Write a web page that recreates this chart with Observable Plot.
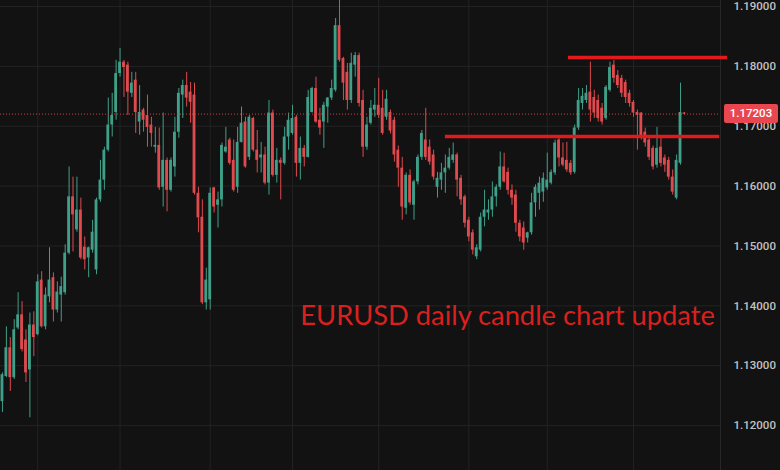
<!DOCTYPE html>
<html><head><meta charset="utf-8">
<script src="https://cdn.jsdelivr.net/npm/d3@7"></script>
<script src="https://cdn.jsdelivr.net/npm/@observablehq/plot@0.6"></script>
<style>
html,body{margin:0;padding:0;background:#121212;}
#chart{width:780px;height:470px;overflow:hidden;}
</style></head><body><div id="chart"></div>
<script>
// Daily EURUSD candles (index = trading day)
const open = [1.1240,1.1282,1.1330,1.1280,1.1363,1.1385,1.1343,1.1293,1.1368,1.1352,1.1443,1.1365,1.1415,1.1447,1.1393,1.1418,1.1422,1.1488,1.1582,1.1527,1.1560,1.1498,1.1480,1.1493,1.1460,1.1577,1.1610,1.1660,1.1702,1.1723,1.1788,1.1807,1.1802,1.1755,1.1777,1.1707,1.1727,1.1718,1.1702,1.1665,1.1668,1.1598,1.1643,1.1593,1.1632,1.1690,1.1752,1.1768,1.1757,1.1752,1.1588,1.1548,1.1405,1.1410,1.1597,1.1568,1.1577,1.1657,1.1677,1.1643,1.1598,1.1673,1.1707,1.1648,1.1713,1.1660,1.1647,1.1652,1.1605,1.1722,1.1618,1.1643,1.1638,1.1682,1.1688,1.1715,1.1638,1.1663,1.1648,1.1723,1.1763,1.1710,1.1707,1.1732,1.1747,1.1760,1.1868,1.1813,1.1790,1.1743,1.1802,1.1818,1.1743,1.1665,1.1705,1.1727,1.1735,1.1730,1.1715,1.1723,1.1710,1.1660,1.1630,1.1563,1.1618,1.1568,1.1607,1.1648,1.1677,1.1665,1.1652,1.1598,1.1610,1.1622,1.1630,1.1643,1.1652,1.1613,1.1582,1.1543,1.1522,1.1482,1.1493,1.1548,1.1555,1.1560,1.1582,1.1598,1.1632,1.1623,1.1593,1.1585,1.1538,1.1530,1.1513,1.1522,1.1572,1.1588,1.1590,1.1597,1.1605,1.1622,1.1677,1.1647,1.1643,1.1638,1.1623,1.1697,1.1738,1.1743,1.1757,1.1748,1.1743,1.1730,1.1713,1.1760,1.1802,1.1785,1.1780,1.1773,1.1755,1.1740,1.1723,1.1722,1.1690,1.1677,1.1663,1.1635,1.1665,1.1647,1.1643,1.1615,1.1580,1.1638,1.1722];
const high = [1.1288,1.1365,1.1347,1.1377,1.1422,1.1407,1.1360,1.1388,1.1390,1.1452,1.1457,1.1430,1.1497,1.1455,1.1440,1.1448,1.1502,1.1632,1.1615,1.1615,1.1580,1.1515,1.1498,1.1543,1.1580,1.1643,1.1665,1.1747,1.1755,1.1810,1.1830,1.1810,1.1807,1.1790,1.1790,1.1768,1.1730,1.1752,1.1715,1.1698,1.1697,1.1722,1.1647,1.1647,1.1715,1.1763,1.1777,1.1790,1.1773,1.1772,1.1598,1.1577,1.1463,1.1597,1.1598,1.1590,1.1672,1.1698,1.1680,1.1677,1.1698,1.1732,1.1715,1.1718,1.1715,1.1693,1.1673,1.1665,1.1743,1.1727,1.1663,1.1647,1.1698,1.1722,1.1735,1.1718,1.1682,1.1668,1.1760,1.1765,1.1782,1.1730,1.1740,1.1748,1.1777,1.1880,1.1910,1.1815,1.1805,1.1822,1.1823,1.1822,1.1760,1.1715,1.1743,1.1763,1.1780,1.1760,1.1760,1.1727,1.1715,1.1667,1.1648,1.1622,1.1627,1.1610,1.1652,1.1693,1.1730,1.1677,1.1660,1.1623,1.1638,1.1652,1.1663,1.1672,1.1655,1.1618,1.1585,1.1548,1.1527,1.1502,1.1555,1.1593,1.1577,1.1607,1.1602,1.1657,1.1655,1.1630,1.1602,1.1593,1.1543,1.1540,1.1523,1.1588,1.1602,1.1615,1.1622,1.1655,1.1627,1.1677,1.1680,1.1672,1.1673,1.1643,1.1702,1.1763,1.1763,1.1768,1.1807,1.1760,1.1752,1.1738,1.1768,1.1807,1.1810,1.1793,1.1785,1.1777,1.1760,1.1743,1.1727,1.1723,1.1697,1.1683,1.1667,1.1698,1.1682,1.1652,1.1648,1.1627,1.1652,1.1772,1.1723];
const low = [1.1222,1.1280,1.1257,1.1277,1.1360,1.1323,1.1272,1.1213,1.1315,1.1350,1.1363,1.1360,1.1405,1.1373,1.1388,1.1373,1.1418,1.1485,1.1490,1.1523,1.1477,1.1460,1.1447,1.1488,1.1452,1.1573,1.1593,1.1657,1.1682,1.1710,1.1782,1.1748,1.1718,1.1748,1.1688,1.1685,1.1690,1.1665,1.1665,1.1655,1.1593,1.1565,1.1557,1.1590,1.1615,1.1680,1.1713,1.1732,1.1705,1.1585,1.1522,1.1402,1.1393,1.1393,1.1555,1.1530,1.1565,1.1655,1.1635,1.1590,1.1588,1.1672,1.1630,1.1643,1.1657,1.1622,1.1622,1.1602,1.1585,1.1615,1.1605,1.1577,1.1635,1.1660,1.1685,1.1615,1.1610,1.1632,1.1647,1.1722,1.1705,1.1685,1.1663,1.1705,1.1743,1.1757,1.1807,1.1743,1.1727,1.1738,1.1782,1.1732,1.1648,1.1660,1.1702,1.1715,1.1713,1.1685,1.1710,1.1687,1.1640,1.1598,1.1543,1.1552,1.1568,1.1543,1.1602,1.1643,1.1643,1.1635,1.1610,1.1580,1.1593,1.1588,1.1627,1.1638,1.1582,1.1568,1.1530,1.1507,1.1485,1.1477,1.1490,1.1532,1.1543,1.1548,1.1565,1.1593,1.1605,1.1585,1.1568,1.1523,1.1507,1.1493,1.1505,1.1518,1.1548,1.1560,1.1573,1.1593,1.1602,1.1618,1.1632,1.1632,1.1623,1.1618,1.1620,1.1693,1.1727,1.1738,1.1707,1.1713,1.1707,1.1702,1.1710,1.1757,1.1772,1.1763,1.1748,1.1738,1.1732,1.1715,1.1660,1.1677,1.1665,1.1643,1.1627,1.1630,1.1632,1.1623,1.1610,1.1585,1.1577,1.1635,1.1719];
const close = [1.1285,1.1330,1.1280,1.1360,1.1385,1.1327,1.1288,1.1368,1.1347,1.1440,1.1365,1.1418,1.1443,1.1393,1.1423,1.1432,1.1488,1.1582,1.1552,1.1560,1.1480,1.1477,1.1497,1.1523,1.1577,1.1610,1.1660,1.1702,1.1718,1.1788,1.1807,1.1798,1.1757,1.1772,1.1723,1.1723,1.1710,1.1698,1.1688,1.1668,1.1597,1.1643,1.1593,1.1643,1.1690,1.1755,1.1768,1.1747,1.1740,1.1588,1.1547,1.1405,1.1443,1.1588,1.1565,1.1577,1.1668,1.1665,1.1638,1.1593,1.1673,1.1705,1.1632,1.1715,1.1660,1.1643,1.1652,1.1605,1.1722,1.1618,1.1643,1.1638,1.1682,1.1710,1.1713,1.1638,1.1663,1.1648,1.1748,1.1763,1.1707,1.1697,1.1735,1.1747,1.1763,1.1868,1.1810,1.1772,1.1743,1.1805,1.1818,1.1738,1.1665,1.1702,1.1730,1.1735,1.1718,1.1688,1.1745,1.1692,1.1652,1.1630,1.1565,1.1618,1.1572,1.1607,1.1648,1.1688,1.1648,1.1640,1.1615,1.1613,1.1622,1.1630,1.1648,1.1652,1.1610,1.1577,1.1538,1.1515,1.1493,1.1497,1.1548,1.1560,1.1560,1.1582,1.1598,1.1632,1.1607,1.1593,1.1580,1.1538,1.1515,1.1505,1.1522,1.1572,1.1598,1.1605,1.1613,1.1610,1.1623,1.1672,1.1647,1.1635,1.1627,1.1622,1.1697,1.1743,1.1750,1.1755,1.1727,1.1722,1.1713,1.1707,1.1765,1.1798,1.1780,1.1768,1.1755,1.1748,1.1738,1.1722,1.1718,1.1682,1.1672,1.1648,1.1632,1.1663,1.1638,1.1635,1.1615,1.1590,1.1643,1.1723,1.1720];

const priceTicks = [1.12, 1.13, 1.14, 1.15, 1.16, 1.17, 1.18, 1.19];
const monthStarts = [9, 30, 53, 74, 96, 119, 139, 161];
const levelPrice = [1.1815, 1.1683];
const levelFrom = [144.4, 113];
const levelTo = [185, 183];
const lastPrice = 1.17203;
const titleText = "EURUSD daily candle chart update";
const titleDay = 76;
const titlePrice = 1.1383;

const candles = open.map((o, i) => ({i, open: o, high: high[i], low: low[i], close: close[i]}));
const levels = levelPrice.map((p, k) => ({price: p, from: levelFrom[k], to: levelTo[k]}));
const UP = "#3f9f88", DOWN = "#de4a4e";
const col = d => d.close >= d.open ? UP : DOWN;

const chart = Plot.plot({
  width: 780, height: 470,
  marginLeft: 0, marginRight: 60, marginTop: 0, marginBottom: 0,
  style: {background: "#121212", fontFamily: "Roboto, sans-serif"},
  x: {domain: [-0.5, 183.2], axis: null},
  y: {domain: [1.1125, 1.1910], axis: null},
  marks: [
    Plot.ruleY(priceTicks, {stroke: "#232323", strokeWidth: 1}),
    Plot.ruleX(monthStarts, {stroke: "#232323", strokeWidth: 1}),
    Plot.frame({anchor: "right", stroke: "#262626"}),
    Plot.ruleX(candles, {x: "i", y1: "low", y2: "high", stroke: col, strokeWidth: 1}),
    Plot.rect(candles, {x1: d => d.i - 0.36, x2: d => d.i + 0.36, y1: "open", y2: "close", fill: col}),
    Plot.ruleY([lastPrice], {stroke: "#c8463f", strokeWidth: 1, strokeDasharray: "1,2"}),
    Plot.ruleY(levels, {y: "price", x1: "from", x2: "to", stroke: "#e3191c", strokeWidth: 3.5}),
    Plot.axisY(priceTicks, {anchor: "right", tickSize: 0, tickPadding: 13, tickFormat: d => d.toFixed(5), fill: "#c2c2c2", fontSize: 11.5, fontWeight: 500, label: null}),
    Plot.text([titleText], {x: titleDay, y: titlePrice, text: d => d, textAnchor: "start", fill: "#d9201f", fontSize: 27.3, fontFamily: "Lato"})
  ]
});

// last price tag on the price axis
const svg = d3.select(chart);
const yLast = chart.scale("y").apply(lastPrice);
svg.append("rect").attr("x", 724).attr("y", yLast - 9.5).attr("width", 54).attr("height", 19).attr("rx", 2).attr("fill", "#e9474f");
svg.append("text").attr("x", 751).attr("y", yLast - 1).attr("dy", "0.35em").attr("text-anchor", "middle")
  .attr("fill", "#ffffff").attr("font-size", 11.5).attr("font-weight", 500).attr("font-family", "Roboto, sans-serif")
  .text(lastPrice.toFixed(5));

document.getElementById("chart").appendChild(chart);
</script>
</body></html>
